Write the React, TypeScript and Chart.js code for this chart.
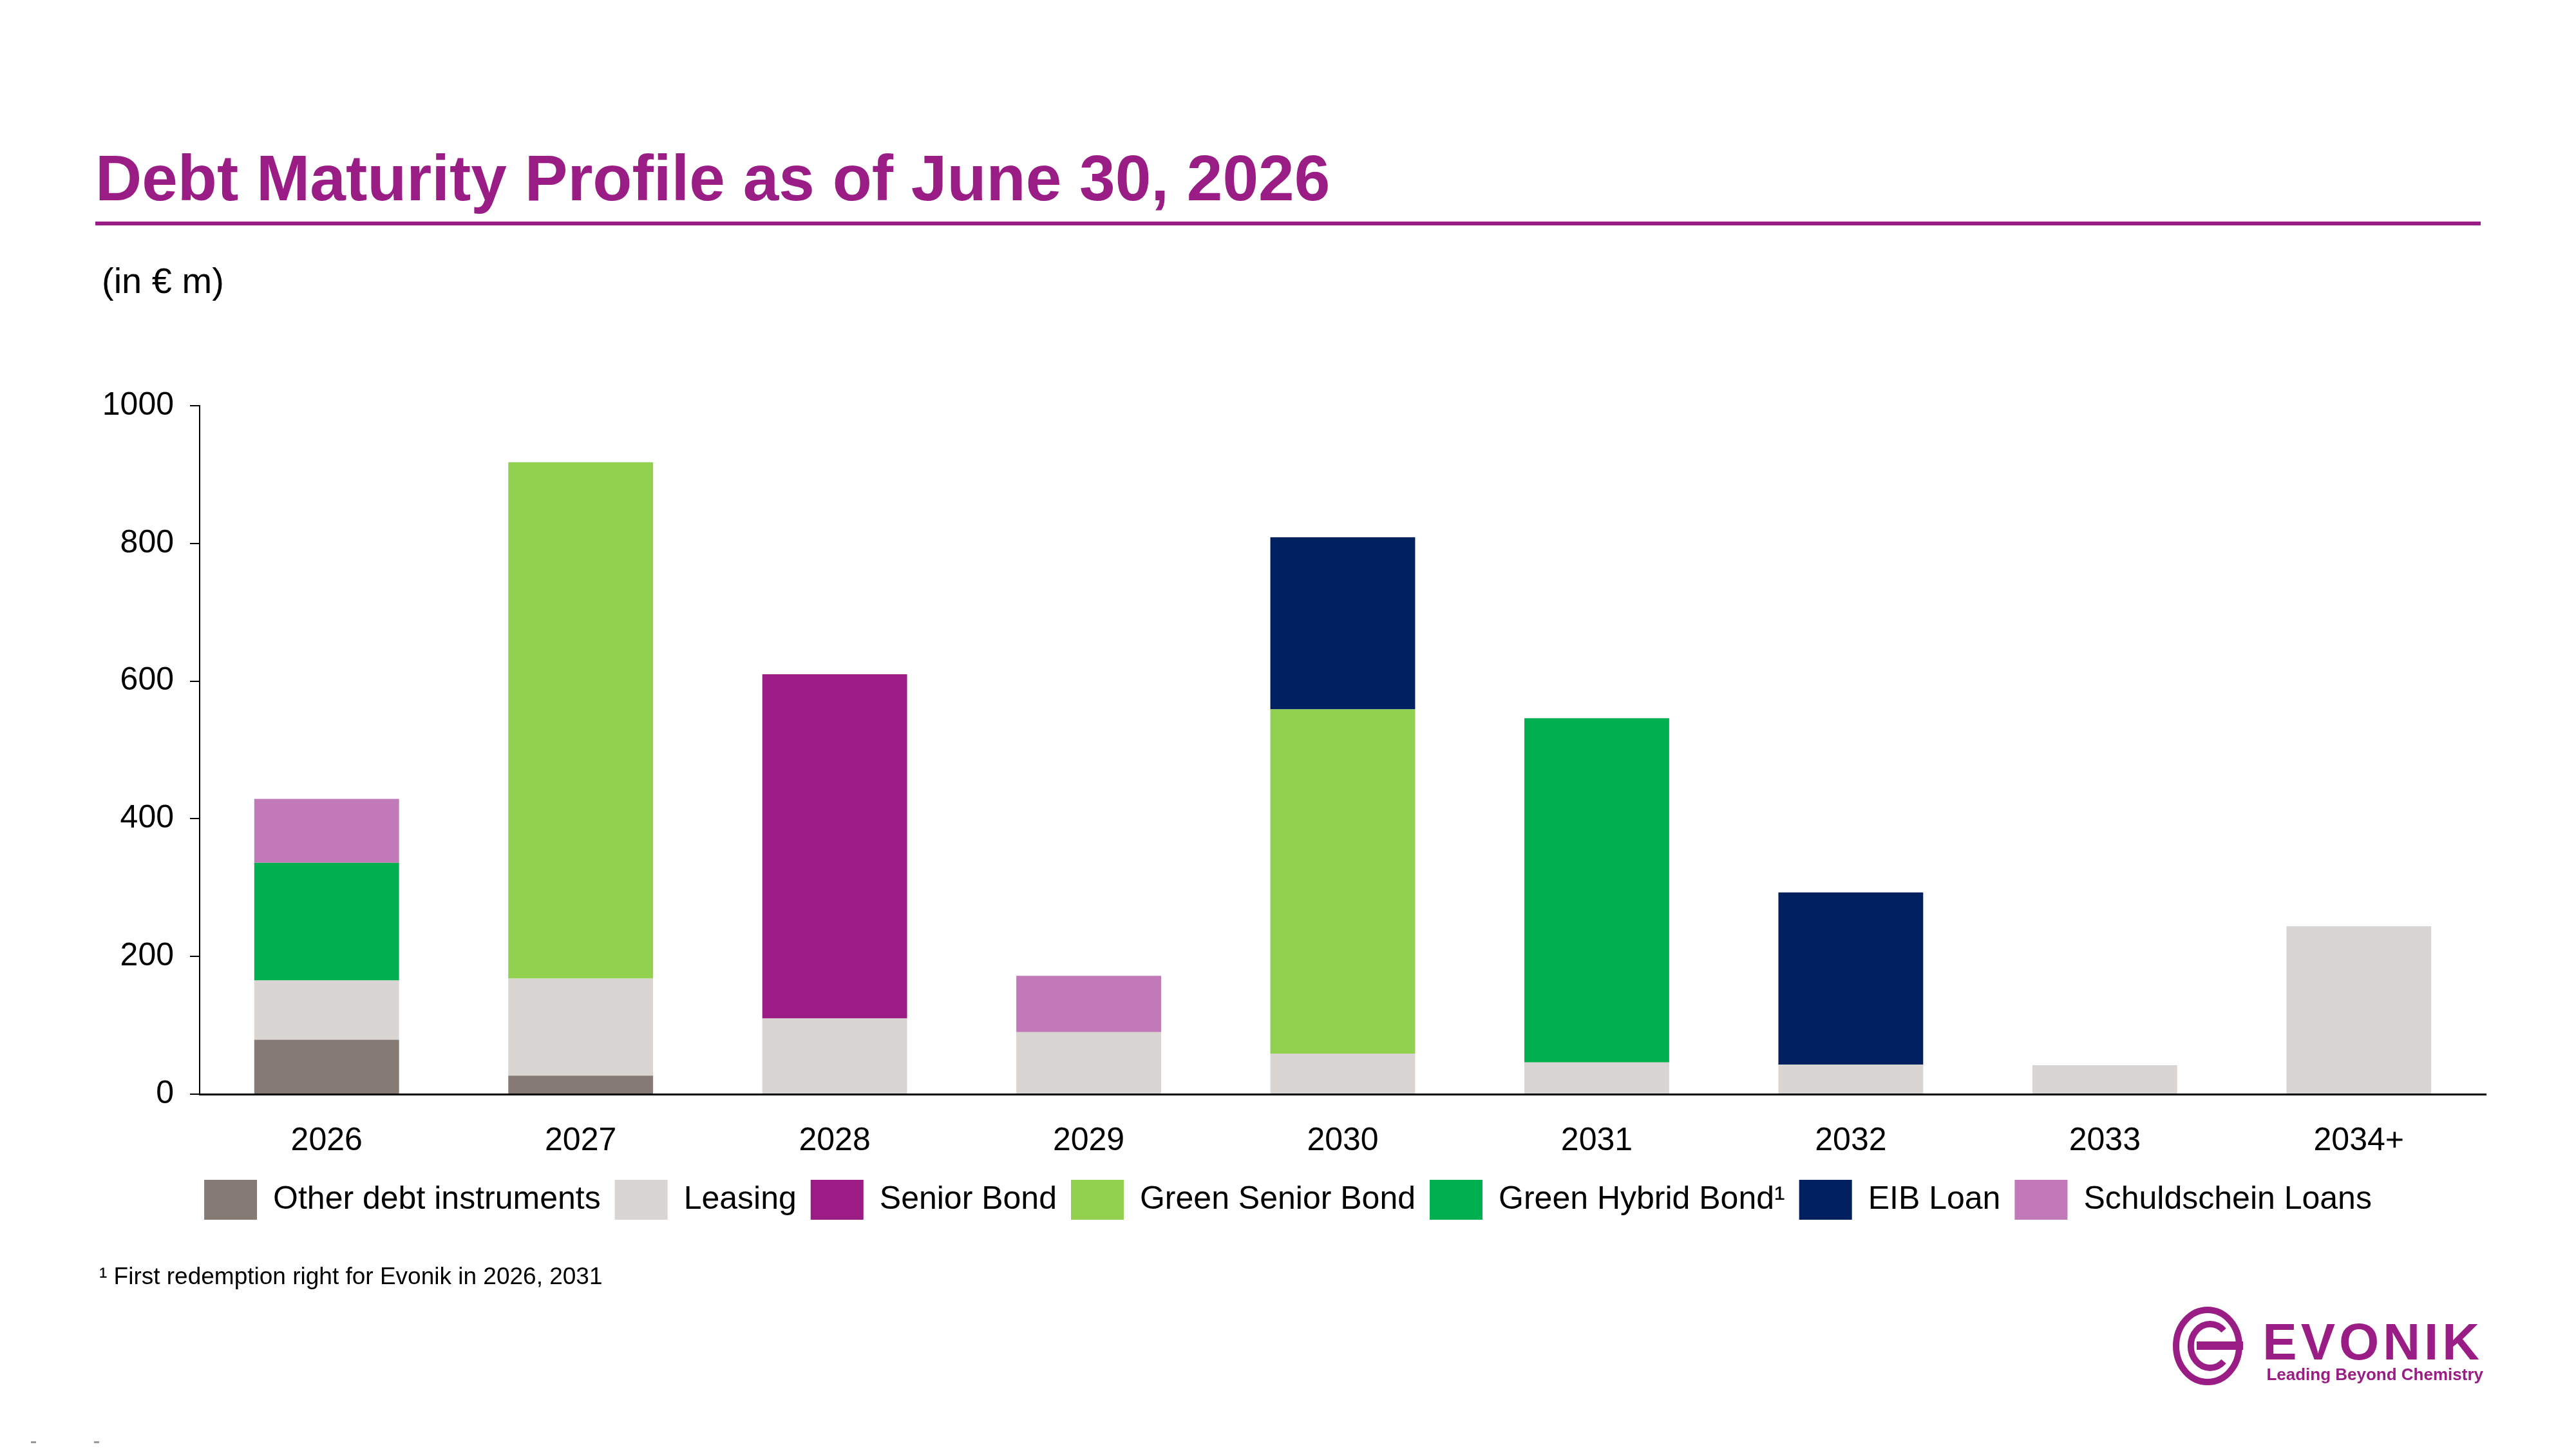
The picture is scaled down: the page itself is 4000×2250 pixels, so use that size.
import React, { useEffect, useRef } from 'react';
import { Chart, registerables } from 'chart.js';

Chart.register(...registerables);

// ---- Data ----
const categories = ['2026', '2027', '2028', '2029', '2030', '2031', '2032', '2033', '2034+'];
const otherDebt = [79, 27, 0, 0, 0, 0, 0, 0, 0];
const leasing = [86, 141, 110, 90, 59, 46, 43, 42, 244];
const seniorBond = [0, 0, 500, 0, 0, 0, 0, 0, 0];
const greenSeniorBond = [0, 750, 0, 0, 500, 0, 0, 0, 0];
const greenHybridBond = [171, 0, 0, 0, 0, 500, 0, 0, 0];
const eibLoan = [0, 0, 0, 0, 250, 0, 250, 0, 0];
const schuldscheinLoans = [93, 0, 0, 82, 0, 0, 0, 0, 0];
const seriesNames = [
  'Other debt instruments',
  'Leasing',
  'Senior Bond',
  'Green Senior Bond',
  'Green Hybrid Bond\u00B9',
  'EIB Loan',
  'Schuldschein Loans',
];
const seriesColors = ['#857B74', '#D8D5D2', '#9B1C84', '#92D050', '#00B050', '#002060', '#C17AB7'];
const yMin = 0;
const yMax = 1000;
const yStep = 200;

const FONT = '"Liberation Sans", Arial, Helvetica, sans-serif';
const PURPLE = '#991D85';

export default function App() {
  const canvasRef = useRef<HTMLCanvasElement | null>(null);

  useEffect(() => {
    document.body.style.margin = '0';
    const canvas = canvasRef.current;
    if (!canvas) return;
    const values = [otherDebt, leasing, seniorBond, greenSeniorBond, greenHybridBond, eibLoan, schuldscheinLoans];
    const chart = new Chart(canvas, {
      type: 'bar',
      data: {
        labels: categories,
        datasets: values.map((v, i) => ({
          label: seriesNames[i],
          data: v,
          backgroundColor: seriesColors[i],
          borderWidth: 0,
          categoryPercentage: 1,
          barPercentage: 0.57,
        })),
      },
      options: {
        animation: false,
        responsive: false,
        devicePixelRatio: 1,
        events: [],
        layout: { padding: { left: 140, right: 140, top: 630, bottom: 346 } },
        plugins: {
          title: { display: false },
          tooltip: { enabled: false },
          legend: {
            display: true,
            position: 'bottom',
            labels: {
              boxWidth: 82,
              boxHeight: 62,
              padding: 22,
              color: '#000',
              font: { family: FONT, size: 50 },
            },
          },
        },
        scales: {
          x: {
            stacked: true,
            grid: { display: false, drawTicks: false },
            border: { display: true, color: '#000', width: 3 },
            ticks: { color: '#000', padding: 43, font: { family: FONT, size: 50 } },
            afterFit: (scale: any) => {
              scale.height = 111;
            },
          },
          y: {
            stacked: true,
            min: yMin,
            max: yMax,
            ticks: {
              stepSize: yStep,
              color: '#000',
              padding: 25,
              font: { family: FONT, size: 50 },
              callback: (v: any) => String(v),
            },
            grid: {
              display: true,
              drawOnChartArea: false,
              drawTicks: true,
              tickLength: 15,
              color: '#000',
              lineWidth: 2,
            },
            border: { display: true, color: '#000', width: 2 },
            afterFit: (scale: any) => {
              scale.width = 170;
            },
          },
        },
      },
    });
    return () => chart.destroy();
  }, []);

  return (
    <div
      style={{
        position: 'absolute',
        left: 0,
        top: 0,
        width: 4000,
        height: 2250,
        background: '#fff',
        overflow: 'hidden',
        fontFamily: FONT,
      }}
    >
      <div
        style={{
          position: 'absolute',
          left: 148,
          top: 226,
          fontSize: 100,
          lineHeight: 1,
          fontWeight: 'bold',
          color: PURPLE,
          whiteSpace: 'nowrap',
        }}
      >
        Debt Maturity Profile as of June 30, 2026
      </div>
      <div style={{ position: 'absolute', left: 148, top: 344, width: 3704, height: 6, background: PURPLE }} />
      <div
        style={{
          position: 'absolute',
          left: 158,
          top: 408,
          fontSize: 56,
          lineHeight: 1,
          color: '#000',
          whiteSpace: 'nowrap',
        }}
      >
        (in € m)
      </div>
      <canvas
        ref={canvasRef}
        width={4000}
        height={2250}
        style={{ position: 'absolute', left: 0, top: 0, width: 4000, height: 2250 }}
      />
      <div
        style={{
          position: 'absolute',
          left: 154,
          top: 1963,
          fontSize: 37,
          lineHeight: 1,
          color: '#000',
          whiteSpace: 'nowrap',
        }}
      >
        {'\u00B9 First redemption right for Evonik in 2026, 2031'}
      </div>
      {/* Evonik logo */}
      <svg
        width={112}
        height={124}
        viewBox="0 0 112 124"
        style={{ position: 'absolute', left: 3373, top: 2028 }}
      >
        <ellipse cx={55} cy={62} rx={49} ry={56} fill="none" stroke={PURPLE} strokeWidth={10} />
        <path d="M 80 38 A 30 34 0 1 0 80 86" fill="none" stroke={PURPLE} strokeWidth={10} />
        <rect x={38} y={55} width={72} height={13} fill={PURPLE} />
      </svg>
      <div
        style={{
          position: 'absolute',
          right: 144,
          top: 2044,
          fontSize: 80,
          lineHeight: 1,
          fontWeight: 'bold',
          color: PURPLE,
          letterSpacing: 6,
          whiteSpace: 'nowrap',
        }}
      >
        EVONIK
      </div>
      <div
        style={{
          position: 'absolute',
          right: 144,
          top: 2121,
          fontSize: 26,
          lineHeight: 1,
          fontWeight: 'bold',
          color: PURPLE,
          whiteSpace: 'nowrap',
        }}
      >
        Leading Beyond Chemistry
      </div>
      <div style={{ position: 'absolute', left: 48, top: 2238, width: 8, height: 3, background: '#999' }} />
      <div style={{ position: 'absolute', left: 146, top: 2238, width: 8, height: 3, background: '#999' }} />
    </div>
  );
}
